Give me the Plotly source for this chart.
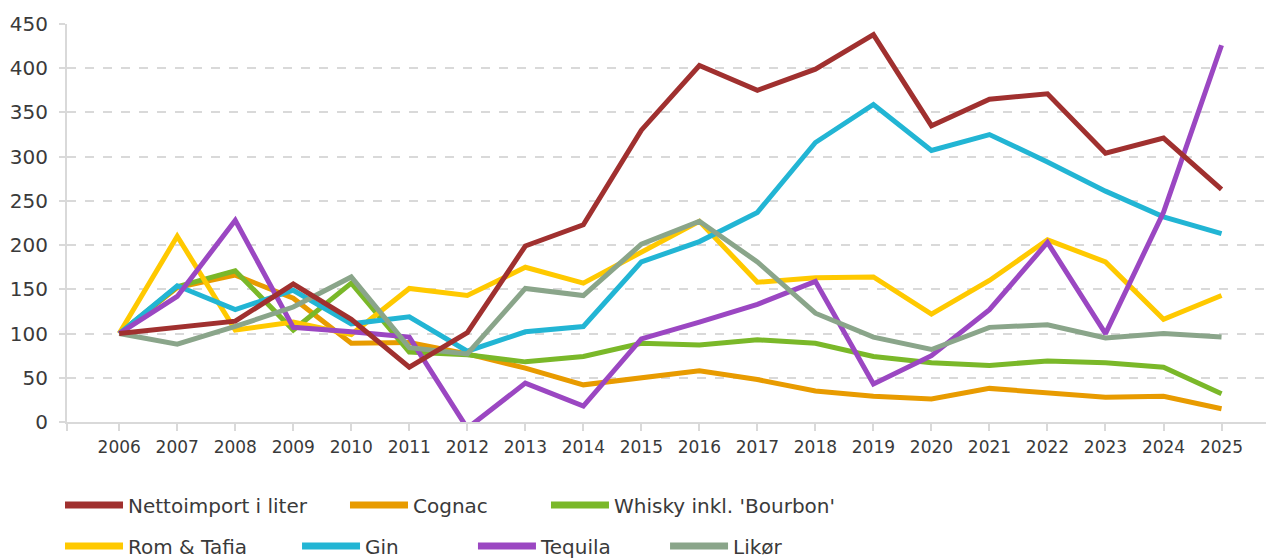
import plotly.graph_objects as go

years = list(range(2006, 2026))

nettoimport = [100, 107, 114, 156, 116, 62, 101, 199, 223, 330, 403, 375, 399, 438, 335, 365, 371, 304, 321, 263]
cognac = [100, 152, 166, 140, 89, 90, 77, 61, 42, 50, 58, 48, 35, 29, 26, 38, 33, 28, 29, 15]
whisky = [100, 153, 171, 104, 157, 79, 76, 68, 74, 89, 87, 93, 89, 74, 67, 64, 69, 67, 62, 32]
rom = [100, 210, 104, 113, 99, 151, 143, 175, 157, 192, 227, 158, 163, 164, 122, 160, 206, 181, 116, 143]
gin = [100, 154, 127, 149, 111, 119, 80, 102, 108, 181, 204, 237, 316, 359, 307, 325, 294, 261, 232, 213]
tequila = [100, 142, 228, 107, 102, 96, -7, 44, 18, 94, 113, 133, 159, 43, 75, 127, 203, 100, 237, 426]
likor = [100, 88, 108, 130, 164, 84, 77, 151, 143, 201, 227, 181, 123, 96, 82, 107, 110, 95, 100, 96]

names = ["Nettoimport i liter", "Cognac", "Whisky inkl. 'Bourbon'", "Rom & Tafia", "Gin", "Tequila", "Likør"]
colors = ["#A0302F", "#E89B00", "#7AB829", "#FFC900", "#22B5D4", "#9B47C2", "#8AA58A"]
series = [nettoimport, cognac, whisky, rom, gin, tequila, likor]

y_ticks = [0, 50, 100, 150, 200, 250, 300, 350, 400, 450]

FONT = "DejaVu Sans"
TXT = "#3a3a3a"

fig = go.Figure()

draw_order = [1, 2, 3, 4, 5, 6, 0]
for i in draw_order:
    fig.add_trace(go.Scatter(
        x=years, y=series[i], mode="lines", name=names[i],
        line=dict(color=colors[i], width=5), showlegend=False,
        hoverinfo="x+y+name",
    ))

# legend entries (one legend each to place them as in the reference)
r1, r2 = -0.2085, -0.3116
leg_pos = [(-0.0058, r1), (0.2307, r1), (0.3975, r1),
           (-0.0058, r2), (0.1909, r2), (0.3369, r2), (0.4963, r2)]
layout_legends = {}
for i, name in enumerate(names):
    key = "legend" if i == 0 else f"legend{i+1}"
    fig.add_trace(go.Scatter(
        x=[None], y=[None], mode="lines", name=name,
        line=dict(color=colors[i], width=7), showlegend=True, legend=key,
    ))
    layout_legends[key] = dict(
        x=leg_pos[i][0], y=leg_pos[i][1], xanchor="left", yanchor="middle",
        orientation="h", font=dict(family=FONT, size=20, color=TXT),
        itemwidth=58, bgcolor="rgba(0,0,0,0)", borderwidth=0,
    )

x_lo, x_hi = 2005.1, 2025.87

# the page adds an 8px body margin, so the figure is sized to fit inside it
fig.update_layout(
    width=1266, height=550,
    margin=dict(l=59, r=2, t=16, b=136, autoexpand=False),
    paper_bgcolor="white", plot_bgcolor="white",
    font=dict(family=FONT, color=TXT),
    **layout_legends,
)

fig.update_xaxes(
    range=[x_lo, x_hi],
    tickvals=[x_lo] + years, ticktext=[""] + [str(y) for y in years],
    ticks="outside", ticklen=7, tickwidth=2, tickcolor="#D9D9D9",
    showline=True, linecolor="#D9D9D9", linewidth=2,
    showgrid=False, zeroline=False,
    tickfont=dict(family=FONT, size=17, color=TXT),
    ticklabelstandoff=2,
)
fig.update_yaxes(
    range=[0, 450], tickvals=y_ticks,
    ticks="outside", ticklen=6, tickwidth=2, tickcolor="#D9D9D9",
    showline=True, linecolor="#D9D9D9", linewidth=2,
    showgrid=True, gridcolor="#D9D9D9", gridwidth=2, griddash="dash",
    zeroline=False,
    tickfont=dict(family=FONT, size=20, color=TXT),
    ticklabelstandoff=7,
)

fig.write_html("out.html")
